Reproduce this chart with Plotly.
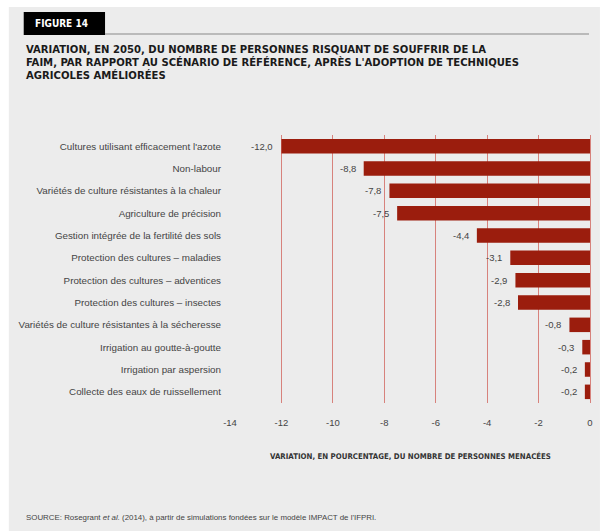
import plotly.graph_objects as go

categories = [
    "Cultures utilisant efficacement l'azote",
    "Non-labour",
    "Variétés de culture résistantes à la chaleur",
    "Agriculture de précision",
    "Gestion intégrée de la fertilité des sols",
    "Protection des cultures – maladies",
    "Protection des cultures – adventices",
    "Protection des cultures – insectes",
    "Variétés de culture résistantes à la sécheresse",
    "Irrigation au goutte-à-goutte",
    "Irrigation par aspersion",
    "Collecte des eaux de ruissellement",
]
values = [-12.0, -8.8, -7.8, -7.5, -4.4, -3.1, -2.9, -2.8, -0.8, -0.3, -0.2, -0.2]
x_ticks = [-14, -12, -10, -8, -6, -4, -2, 0]
title_lines = [
    "VARIATION, EN 2050, DU NOMBRE DE PERSONNES RISQUANT DE SOUFFRIR DE LA",
    "FAIM, PAR RAPPORT AU SCÉNARIO DE RÉFÉRENCE, APRÈS L'ADOPTION DE TECHNIQUES",
    "AGRICOLES AMÉLIORÉES",
]

W, H = 603, 531
L, R, T, B = 230, 10, 135, 128
pw, ph = W - L - R, H - T - B

def px(x):
    return (x - L) / pw

def py(y):
    return 1 - (y - T) / ph

BAR = "#9b1d0d"
GRID = "#d7827c"
BG = "#ececec"
FONT = "DejaVu Sans Condensed, Liberation Sans Narrow, Liberation Sans, sans-serif"
LFONT = "Liberation Sans, sans-serif"

fig = go.Figure(go.Bar(
    x=values, y=categories, orientation="h",
    marker=dict(color=BAR, line=dict(width=0)),
    width=0.65,
))

fig.update_layout(
    width=W, height=H,
    margin=dict(l=L, r=R, t=T, b=B),
    paper_bgcolor="white", plot_bgcolor=BG,
    separators=", ",
    showlegend=False,
    font=dict(family=LFONT, color="#333"),
    xaxis=dict(range=[-14, 0], tickvals=x_ticks, ticktext=[str(v) for v in x_ticks],
               showgrid=True, gridcolor=GRID, gridwidth=1.3, zeroline=True,
               zerolinecolor=GRID, zerolinewidth=1.3, showline=False,
               ticks="", ticklabelstandoff=12,
               tickfont=dict(family=LFONT, size=9.5, color="#444")),
    yaxis=dict(range=[11.5, -0.5], showgrid=False, zeroline=False, showline=False,
               ticks="", ticklabelstandoff=8,
               tickfont=dict(family=LFONT, size=9.8, color="#444")),
)

shapes = [
    dict(type="rect", xref="paper", yref="paper", x0=px(7), x1=px(603), y0=py(531), y1=py(7),
         fillcolor=BG, line=dict(width=0), layer="below"),
    dict(type="rect", xref="paper", yref="paper", x0=px(22), x1=px(104), y0=py(35), y1=py(12),
         fillcolor="black", line=dict(width=0)),
    dict(type="line", xref="paper", yref="paper", x0=px(104), x1=px(592), y0=py(34), y1=py(34),
         line=dict(color="#888", width=1.2)),
]
fig.update_layout(shapes=shapes)

ann = [
    dict(text="<b>FIGURE 14</b>", x=px(60), y=py(23.5), xanchor="center", yanchor="middle",
         font=dict(family=FONT, size=10, color="white")),
    dict(text="<b>VARIATION, EN POURCENTAGE, DU NOMBRE DE PERSONNES MENACÉES</b>",
         x=px(412), y=py(456), xanchor="center", yanchor="middle",
         font=dict(family=FONT, size=7.8, color="#333")),
    dict(text="SOURCE: Rosegrant <i>et al.</i> (2014), à partir de simulations fondées sur le modèle IMPACT de l'IFPRI.",
         x=px(22), y=py(517), xanchor="left", yanchor="middle",
         font=dict(family=LFONT, size=7.9, color="#444")),
]
for i, line in enumerate(title_lines):
    ann.append(dict(text="<b>" + line + "</b>", x=px(22), y=py(50 + 12.5 * i),
                    xanchor="left", yanchor="middle",
                    font=dict(family=FONT, size=11.2, color="#1a1a1a")))
for a in ann:
    a.update(xref="paper", yref="paper", showarrow=False)

for cat, v in zip(categories, values):
    ann.append(dict(x=v, y=cat, xref="x", yref="y", showarrow=False,
                    text=f"{v:.1f}".replace(".", ","), xanchor="right", yanchor="middle",
                    xshift=-6, font=dict(family=LFONT, size=9.5, color="#444")))
fig.update_layout(annotations=ann)

fig.write_html("out.html")
